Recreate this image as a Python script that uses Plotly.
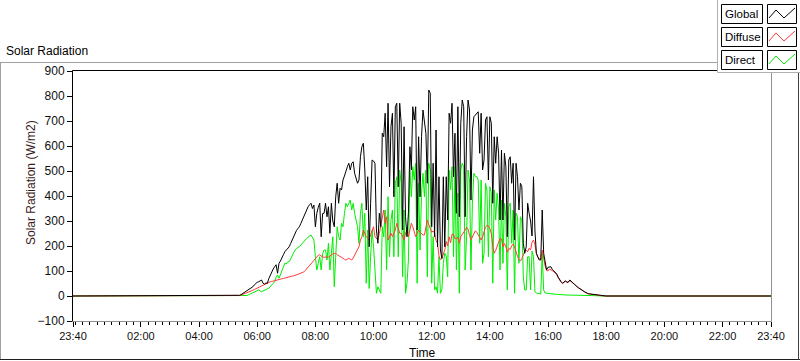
import pandas as pd
import plotly.graph_objects as go

# ---------------- data ----------------
day = "2020-01-02"
prev_day = "2020-01-01"
start_time = "05:00"          # first sample of the daytime record
step_minutes = 3              # sampling step
range_start = prev_day + " 23:40"
range_end = day + " 23:40"

global_vals = [
    0, 0, 0, 0, 0, 0, 0, 0, 3, 6, 10, 14, 17, 21, 24, 28, 31, 37, 44, 50, 55, 57, 62, 64, 51, 48, 52, 51,
    70, 84, 95, 108, 117, 125, 91, 131, 140, 157, 165, 177, 184, 190, 197, 210, 224, 238, 251, 262, 270,
    277, 290, 304, 318, 331, 345, 357, 365, 371, 350, 364, 277, 331, 355, 371, 237, 330, 331,
    371, 317, 357, 251, 371, 300, 277, 397, 451, 371, 431, 424, 464, 480, 504, 517, 531, 504, 531, 537,
    491, 470, 451, 464, 557, 597, 611, 504, 344, 477, 197, 371, 544, 540, 531, 264, 211, 331, 277, 651,
    637, 731, 517, 771, 437, 677, 731, 397, 757, 771, 437, 771, 691, 264, 677, 317, 237, 331, 597, 504,
    757, 704, 757, 264, 637, 397, 637, 744, 704,
    651, 451, 824, 811, 277, 531, 237, 664, 197, 477, 184, 150, 477, 197, 477, 304, 731, 691, 771, 477,
    651, 331, 757, 317, 691, 784, 757, 317, 637, 784, 744, 384, 664, 717, 724, 731, 737, 571, 731, 504,
    544, 704, 717, 464, 717, 691, 371, 637, 531, 637, 571, 304, 584, 304, 571, 517, 237, 544, 557, 451,
    531, 224, 531, 477, 344, 451, 437, 211, 171,
    197, 371, 331, 300, 240, 477, 260, 171, 155, 144, 144, 344, 171, 131, 104, 115, 117, 117, 106, 100,
    94, 88, 75, 64, 57, 51, 56, 61, 55, 56, 64, 58, 51, 46, 41, 37, 33, 30, 26, 21,
    17, 13, 11, 9, 8, 7, 7, 6, 5, 3, 3, 2, 1, 1, 0, 0,
]

diffuse_vals = [
    0, 0, 0, 0, 0, 0, 0, 0, 2, 4, 6, 8, 10, 12, 14, 17, 20, 23, 26, 29, 31, 34, 37, 40, 43, 46, 48, 51,
    54, 57, 58, 60, 61, 62, 63, 66, 68, 69, 70, 72, 74, 75, 77, 78, 80, 80, 82, 84, 86, 88, 90, 92, 96,
    102, 108, 114, 120, 127, 135, 143, 151, 158, 163, 165, 160, 156, 155,
    157, 156, 155, 160, 164, 168, 170, 171, 165, 160, 158, 155, 150, 147, 144, 148, 151, 147, 144, 152,
    162, 171, 185, 197, 224, 237, 264, 250, 237, 230, 224, 245, 264, 277, 237, 230, 224, 250, 277, 317,
    344, 291, 317, 224, 240, 251, 237, 250, 264, 291, 270, 251, 251, 238, 224, 251, 264, 237, 265, 291,
    277, 257, 237, 250, 264, 255, 248, 244, 244,
    277, 304, 285, 270, 255, 260, 251, 222, 211, 160, 145, 150, 170, 184, 218, 200, 237, 213, 248, 245,
    230, 230, 235, 211, 237, 245, 255, 264, 275, 268, 242, 225, 236, 249, 261, 255, 244, 232, 224, 237,
    262, 275, 283, 280, 270, 250, 200, 171, 182, 195, 215, 230, 228, 197, 210, 197, 175, 190, 186, 200,
    208, 197, 171, 158, 146, 140, 150, 165, 178,
    184, 177, 191, 184, 215, 224, 205, 171, 157, 151, 144, 184, 144, 120, 102, 100, 108, 106, 101, 97,
    91, 85, 73, 62, 55, 50, 54, 59, 53, 55, 62, 57, 50, 45, 40, 36, 32, 29, 25, 20,
    16, 12, 10, 8, 7, 6, 6, 5, 4, 3, 2, 2, 1, 1, 0, 0,
]

direct_vals = [
    0, 0, 0, 0, 0, 0, 0, 0, 0, 0, 0, 0, 0, 2, 5, 8, 11, 13, 15, 17, 21, 24, 20, 17, 20, 24, 27, 29,
    31, 38, 44, 50, 57, 75, 84, 71, 88, 104, 118, 131, 128, 137, 137, 150, 164, 175, 184, 188, 195, 197,
    205, 211, 218, 224, 230, 237, 240, 244, 236, 224, 157, 104, 131, 157, 104, 170, 184,
    184, 144, 211, 104, 157, 237, 37, 184, 277, 237, 224, 291, 277, 330, 371, 357, 371, 384, 344, 371,
    331, 304, 277, 211, 331, 371, 237, 331, 51, 264, 30, 157, 264, 197, 104, 11, 37, 25, 11, 277,
    237, 344, 104, 397, 157, 304, 344, 157, 451, 477, 157, 504, 451, 77, 344, 11, 51, 144, 504, 397,
    517, 464, 531, 51, 451, 184, 411, 491, 397,
    504, 77, 531, 504, 51, 237, 24, 37, 11, 157, 11, 24, 131, 171, 160, 77, 504, 424, 517, 157,
    517, 104, 411, 11, 504, 531, 517, 104, 237, 504, 464, 104, 371, 491, 477, 477, 464, 211, 464, 131,
    171, 451, 424, 157, 437, 411, 51, 424, 304, 411, 344, 104, 384, 131, 371, 317, 24, 357, 371, 211,
    344, 11, 331, 317, 131, 317, 304, 77, 24,
    24, 157, 157, 24, 180, 157, 17, 12, 11, 10, 8, 171, 24, 12, 11, 10, 8, 8, 8, 7,
    7, 7, 6, 6, 5, 5, 5, 4, 4, 4, 4, 4, 3, 3, 3, 3, 3, 2, 2, 2,
    2, 2, 2, 1, 1, 1, 1, 1, 1, 1, 1, 0, 0, 0, 0, 0,
]

series_names = ["Global", "Diffuse", "Direct"]
series_colors = {"Global": "#000000", "Diffuse": "#ff3b3b", "Direct": "#00ee00"}

y_tick_values = [-100, 0, 100, 200, 300, 400, 500, 600, 700, 800, 900]
x_tick_labels = ["23:40", "02:00", "04:00", "06:00", "08:00", "10:00", "12:00",
                 "14:00", "16:00", "18:00", "20:00", "22:00", "23:40"]
x_tick_times = [range_start] + [f"{day} {lab}" for lab in x_tick_labels[1:-1]] + [range_end]

title_text = "Solar Radiation"
y_title = "Solar Radiation (W/m2)"
x_title = "Time"


def series_xy(vals):
    t = pd.date_range(f"{day} {start_time}", periods=len(vals), freq=f"{step_minutes}min")
    xs = [pd.Timestamp(range_start)] + list(t) + [pd.Timestamp(range_end)]
    ys = [0] + list(vals) + [0]
    return xs, ys


# ---------------- layout geometry (pixels) ----------------
FW, FH = 800, 361
ML, MR, MT, MB = 73, 29, 71, 40
PW = FW - ML - MR
PH = FH - MT - MB


def px(x):
    return (x - ML) / PW


def py(y):
    return (MT + PH - y) / PH


FONT = "Liberation Sans, Arial, sans-serif"

fig = go.Figure()
data_map = {"Global": global_vals, "Diffuse": diffuse_vals, "Direct": direct_vals}
for name in ["Direct", "Diffuse", "Global"]:
    xs, ys = series_xy(data_map[name])
    fig.add_trace(go.Scatter(x=xs, y=ys, mode="lines", name=name,
                             line=dict(color=series_colors[name], width=1),
                             hoverinfo="skip"))

shapes = []


def line(x0, y0, x1, y1, color, width=1):
    shapes.append(dict(type="line", xref="paper", yref="paper",
                       x0=px(x0), y0=py(y0), x1=px(x1), y1=py(y1),
                       line=dict(color=color, width=width), layer="above"))


def rect(x0, y0, x1, y1, color, fill=None, width=1):
    shapes.append(dict(type="rect", xref="paper", yref="paper",
                       x0=px(x0), y0=py(y0), x1=px(x1), y1=py(y1),
                       line=dict(color=color, width=width),
                       fillcolor=fill if fill else "rgba(0,0,0,0)", layer="above"))


# outer graph frame
line(0, 62.5, 717, 62.5, "#a0a0a0")
line(0.5, 62, 0.5, 359, "#a0a0a0")
line(0, 359.5, 800, 359.5, "#202020")
line(798.5, 72, 798.5, 360, "#404040")

# plot area border
line(72.5, 70.5, 717, 70.5, "#000000")
line(72.5, 70.5, 72.5, 321.5, "#000000")
line(72.5, 321.5, 771.5, 321.5, "#909090")
line(771.5, 72, 771.5, 321.5, "#909090")

# legend panel
rect(717.5, -1, 801, 72.5, "rgba(0,0,0,0)", fill="#ffffff", width=0)
line(717.5, 0, 717.5, 72.5, "#b0b0b0")
line(717.5, 72.5, 800, 72.5, "#b0b0b0")

annotations = []
row_tops = [4, 27, 50]
for name, top in zip(series_names, row_tops):
    rect(721.5, top + 0.5, 762.5, top + 19.5, "#000000")
    rect(767.5, top + 0.5, 796.5, top + 19.5, "#000000")
    pts = [(769, top + 14), (776, top + 6), (784, top + 14), (795, top + 4)]
    path = "M " + " L ".join(f"{px(a)},{py(b)}" for a, b in pts)
    shapes.append(dict(type="path", xref="paper", yref="paper", path=path,
                       line=dict(color=series_colors[name], width=1), layer="above"))
    annotations.append(dict(text=name, xref="paper", yref="paper", x=px(723), y=py(top + 10),
                            xanchor="left", yanchor="middle", showarrow=False,
                            font=dict(family=FONT, size=11.5, color="#000000")))

annotations.append(dict(text=title_text, xref="paper", yref="paper", x=px(4), y=py(51),
                        xanchor="left", yanchor="middle", showarrow=False,
                        font=dict(family=FONT, size=12, color="#000000")))
annotations.append(dict(text=y_title, xref="paper", yref="paper", x=px(31), y=py(183),
                        xanchor="center", yanchor="middle", showarrow=False, textangle=-90,
                        font=dict(family=FONT, size=12, color="#3a1a1a")))
annotations.append(dict(text=x_title, xref="paper", yref="paper", x=px(422), y=py(353),
                        xanchor="center", yanchor="middle", showarrow=False,
                        font=dict(family=FONT, size=12, color="#000000")))

fig.update_layout(
    width=FW, height=FH,
    margin=dict(l=ML, r=MR, t=MT, b=MB, pad=0),
    paper_bgcolor="#ffffff", plot_bgcolor="#ffffff",
    showlegend=False,
    shapes=shapes,
    annotations=annotations,
    xaxis=dict(
        type="date", range=[range_start, range_end],
        tickmode="array", tickvals=x_tick_times, ticktext=x_tick_labels,
        ticks="outside", ticklen=5, tickwidth=1, tickcolor="#000000",
        showgrid=False, zeroline=False, showline=False,
        tickfont=dict(family=FONT, size=11, color="#101010"),
        minor=dict(ticks="outside", ticklen=3, tickwidth=1, tickcolor="#000000",
                   dtick=15 * 60 * 1000, tick0=f"{day} 00:00", showgrid=False),
    ),
    yaxis=dict(
        range=[-100, 900], tickmode="array", tickvals=y_tick_values,
        ticks="outside", ticklen=5, tickwidth=1, tickcolor="#000000",
        showgrid=False, zeroline=False, showline=False,
        tickfont=dict(family=FONT, size=12, color="#101010"),
    ),
)

fig.write_html(
    "out.html",
    config={"displayModeBar": False, "staticPlot": True},
    post_script="document.body.style.margin='0';document.body.style.padding='0';",
)
